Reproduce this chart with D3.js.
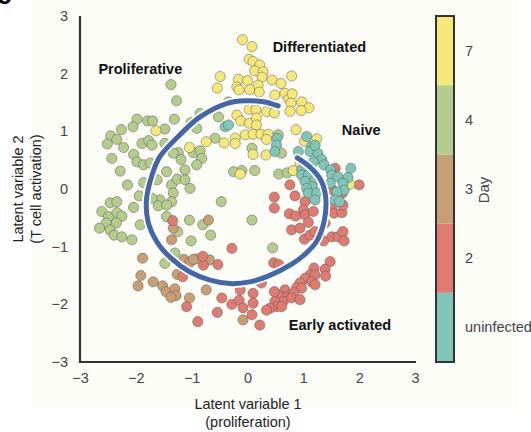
<!DOCTYPE html>
<html>
<head>
<meta charset="utf-8">
<script src="https://cdn.jsdelivr.net/npm/d3@7"></script>
<style>
  html, body { margin: 0; padding: 0; background: #ffffff; }
  svg { display: block; font-family: "Liberation Sans", Arial, Helvetica, sans-serif; }
</style>
</head>
<body>
<svg id="chart" width="531" height="432"></svg>
<script>
// Latent positions of single cells, grouped by sampling day
const day7 = [
  [-0.09,2.59],[0.08,2.47],[0.03,2.25],[0.10,2.21],[0.22,2.15],[0.13,2.05],[0.28,2.03],[0.26,1.94],
  [-0.16,1.90],[0.00,1.88],[0.19,1.80],[0.44,1.89],[0.60,1.83],[0.79,1.96],[-0.19,1.77],[-0.15,1.72],
  [0.04,1.72],[0.21,1.68],[0.49,1.63],[0.67,1.66],[0.74,1.56],[0.80,1.65],[0.78,1.49],[0.97,1.51],
  [1.10,1.41],[0.96,1.36],[0.76,1.35],[-0.49,1.95],[-0.54,1.75],[-0.19,1.28],[0.03,1.38],[0.15,1.37],
  [-0.12,1.18],[0.03,1.14],[0.16,1.23],[0.16,1.11],[0.34,1.34],[0.48,1.32],[0.87,1.03],[-0.04,0.94],
  [0.10,0.95],[0.24,0.95],[0.37,0.95],[-0.22,0.88],[-0.22,0.79],[0.34,0.86],[1.02,0.83],[0.33,0.59],
  [0.94,0.45],[0.82,0.32],[-0.13,0.26],[1.83,0.08],[-1.64,1.01],[-1.04,0.72],[-0.74,0.82],[-0.42,0.80],
  [0.10,0.60],[1.24,0.87]
];
const day4 = [
  [-1.37,1.81],[-1.27,1.53],[-0.34,1.51],[-1.98,1.21],[-1.79,1.18],[-1.70,1.18],[-2.26,1.03],[-2.05,1.08],
  [-1.48,1.04],[-1.31,1.21],[-1.01,1.15],[-0.85,1.31],[-0.91,1.05],[-0.52,1.25],[-2.45,0.92],[-2.34,0.86],
  [-2.51,0.78],[-2.22,0.72],[-1.89,0.79],[-1.77,0.84],[-1.71,0.76],[-1.48,0.79],[-1.24,0.63],[-1.33,0.62],
  [-1.19,0.51],[-2.04,0.60],[-1.98,0.47],[-1.86,0.42],[-2.43,0.53],[-2.28,0.31],[-1.74,0.45],[-0.97,0.63],
  [-0.85,0.66],[-0.82,0.53],[-0.91,0.42],[-0.58,0.88],[-1.45,0.30],[-1.12,0.33],[-2.15,0.07],[-1.94,-0.12],
  [-1.86,0.11],[-1.62,0.16],[-1.36,0.07],[-1.26,0.17],[-1.12,0.16],[-1.03,0.01],[-1.33,-0.07],[-1.36,-0.22],
  [-1.57,-0.19],[-1.60,-0.29],[-1.45,-0.28],[-1.71,-0.16],[-2.04,-0.32],[-2.46,-0.24],[-2.34,-0.22],[-2.61,-0.39],
  [-2.49,-0.48],[-2.34,-0.41],[-2.25,-0.47],[-2.35,-0.59],[-2.53,-0.59],[-2.65,-0.68],[-2.46,-0.71],[-2.39,-0.80],
  [-2.25,-0.83],[-2.07,-0.88],[-1.92,-0.62],[-1.45,-0.48],[-1.25,-0.74],[-1.04,-0.54],[-1.01,-0.90],[-0.80,-0.62],
  [-0.66,-0.80],[-0.47,-0.22],[-1.30,-1.11],[-1.48,-1.29],[-0.91,-1.21],[0.08,-0.54],[0.45,-1.02],[0.08,0.71],
  [0.61,0.62],[-0.10,0.32],[0.13,0.32],[0.56,0.26],[0.71,0.28],[-0.25,0.30],[0.55,0.94]
];
const day3 = [
  [-1.88,-1.20],[-1.14,-1.22],[-1.03,-1.27],[-0.97,-1.22],[-0.68,-1.23],[-1.91,-1.50],[-1.26,-1.48],[-1.96,-1.68],
  [-1.69,-1.61],[-1.52,-1.68],[-1.46,-1.78],[-1.30,-1.73],[-1.28,-1.85],[-1.37,-1.88],[-1.04,-1.89],[-0.74,-1.75],
  [-0.08,-2.27],[-0.70,-0.54],[-1.33,-0.68],[-1.36,-0.88]
];
const day2 = [
  [1.57,0.36],[1.53,-0.02],[1.70,-0.07],[2.00,0.07],[0.76,0.07],[0.48,-0.14],[0.48,-0.33],[0.85,-0.12],
  [1.03,-0.22],[0.75,-0.43],[0.86,-0.47],[1.00,-0.36],[1.03,-0.45],[1.18,-0.39],[1.51,-0.31],[1.55,-0.42],
  [1.69,-0.41],[1.71,-0.28],[0.79,-0.71],[0.94,-0.68],[1.02,-0.87],[1.12,-0.80],[1.21,-0.74],[1.51,-0.83],
  [1.62,-0.83],[1.71,-0.74],[1.73,-0.90],[1.39,-0.59],[-0.28,-1.03],[1.09,-0.58],[1.36,-0.90],[0.47,-1.28],
  [0.56,-1.31],[1.48,-1.26],[1.39,-1.39],[1.40,-1.51],[1.19,-1.37],[1.12,-1.49],[1.21,-1.49],[1.03,-1.55],
  [1.15,-1.61],[1.21,-1.66],[0.94,-1.63],[0.88,-1.71],[0.97,-1.72],[0.67,-1.75],[0.76,-1.84],[0.83,-1.80],
  [0.64,-1.87],[0.55,-1.84],[0.64,-1.95],[0.79,-1.89],[0.94,-1.92],[0.48,-1.78],[0.49,-1.95],[0.52,-2.04],
  [0.61,-2.04],[0.40,-2.07],[0.34,-2.10],[0.10,-1.81],[0.10,-1.98],[-0.28,-2.00],[-0.15,-1.93],[-0.08,-2.06],
  [0.08,-2.18],[0.22,-2.36],[-0.46,-1.89],[-0.13,-1.75],[0.25,-1.63],[-0.53,-1.31],[-0.79,-1.32],[-0.80,-1.17],
  [-1.34,-0.55],[-1.09,-2.04],[-0.89,-2.30],[-0.54,-2.14],[-1.16,-1.52]
];
const uninfected = [
  [-0.40,1.08],[-0.34,1.11],[0.53,0.88],[0.52,0.76],[0.49,0.65],[1.06,0.91],[1.14,0.73],[1.12,0.65],
  [1.26,0.62],[1.33,0.51],[1.37,0.42],[1.18,0.47],[0.91,0.65],[1.21,0.76],[0.97,0.33],[1.06,0.39],
  [1.49,0.33],[1.85,0.36],[0.97,0.24],[1.09,0.24],[1.03,0.13],[1.21,0.16],[1.16,0.04],[1.06,0.01],
  [1.09,-0.07],[1.24,-0.07],[1.21,-0.19],[1.51,0.24],[1.62,0.21],[1.48,0.10],[1.80,0.20],[1.71,0.10],
  [1.73,-0.02],[1.60,-0.05],[1.57,-0.19],[1.65,-0.22]
];

// Principal trajectory through the latent space
const trajectory = [
  [0.55,1.44],[0.31,1.51],[-0.04,1.53],[-0.35,1.49],[-0.85,1.25],[-1.21,0.94],[-1.57,0.56],[-1.72,0.21],
  [-1.81,-0.19],[-1.78,-0.57],[-1.62,-0.92],[-1.38,-1.19],[-1.03,-1.44],[-0.67,-1.58],[-0.31,-1.64],[0.04,-1.61],
  [0.37,-1.51],[0.80,-1.30],[1.03,-1.13],[1.23,-0.92],[1.37,-0.57],[1.40,-0.14],[1.31,0.16],[1.12,0.38],[0.89,0.54]
];

// Colour bar categories, bottom to top
const dayLabels = ["uninfected", "2", "3", "4", "7"];
const dayColors = ["#7fc6b8", "#e07b71", "#c99e73", "#b5cd8c", "#f5e879"];

const stateLabels = [
  {text: "Proliferative", x: -2.67, y: 2.00},
  {text: "Differentiated", x: 0.45, y: 2.38},
  {text: "Naive", x: 1.69, y: 0.93},
  {text: "Early activated", x: 0.74, y: -2.45}
];

const xTicks = [-3, -2, -1, 0, 1, 2, 3];
const yTicks = [-3, -2, -1, 0, 1, 2, 3];

const svg = d3.select("#chart");

// faint paper tone behind the figure
svg.append("rect").attr("x", 32).attr("y", 0).attr("width", 486).attr("height", 408)
  .attr("fill", "#fdfdf8");

// panel letter, mostly clipped by the page edge
svg.append("text").attr("x", -3).attr("y", 3.5)
  .attr("font-size", 26).attr("font-weight", "bold").attr("fill", "#000").text("c");

const x = d3.scaleLinear().domain([-3, 3]).range([80, 415]);
const y = d3.scaleLinear().domain([-3, 3]).range([362, 16]);

// axes
const xAxis = svg.append("g").attr("transform", "translate(0,362)")
  .call(d3.axisBottom(x).tickValues(xTicks).tickSize(0).tickPadding(11).tickFormat(d3.format("d")));
const yAxis = svg.append("g").attr("transform", "translate(80,0)")
  .call(d3.axisLeft(y).tickValues(yTicks).tickSize(0).tickPadding(12).tickFormat(d3.format("d")));
[xAxis, yAxis].forEach(g => {
  g.select(".domain").remove();
  g.selectAll("text").attr("font-size", 14.5).attr("fill", "#444")
    .attr("font-family", "'Liberation Sans', Arial, sans-serif");
});
svg.append("line").attr("x1", 80).attr("x2", 80).attr("y1", 16).attr("y2", 363)
  .attr("stroke", "#333").attr("stroke-width", 2.2);
svg.append("line").attr("x1", 79).attr("x2", 416).attr("y1", 362).attr("y2", 362)
  .attr("stroke", "#333").attr("stroke-width", 2.2);

// cells
const groups = [
  {data: day4, color: dayColors[3]},
  {data: day3, color: dayColors[2]},
  {data: day2, color: dayColors[1]},
  {data: day7, color: dayColors[4]},
  {data: uninfected, color: dayColors[0]}
];
const cells = svg.append("g");
groups.forEach(gp => {
  cells.selectAll(null).data(gp.data).enter().append("circle")
    .attr("cx", d => x(d[0])).attr("cy", d => y(d[1])).attr("r", 5.1)
    .attr("fill", gp.color).attr("stroke", "#555").attr("stroke-opacity", 0.7).attr("stroke-width", 0.7);
});

// trajectory with a white halo
const line = d3.line().x(d => x(d[0])).y(d => y(d[1])).curve(d3.curveCatmullRom.alpha(0.5));
svg.append("path").attr("d", line(trajectory)).attr("fill", "none")
  .attr("stroke", "#ffffff").attr("stroke-width", 8.5).attr("stroke-linecap", "round");
svg.append("path").attr("d", line(trajectory)).attr("fill", "none")
  .attr("stroke", "#4567a8").attr("stroke-width", 5).attr("stroke-linecap", "round");

// state annotations
svg.selectAll(".state").data(stateLabels).enter().append("text")
  .attr("x", d => x(d.x)).attr("y", d => y(d.y))
  .attr("font-size", 14.5).attr("font-weight", "bold").attr("fill", "#111")
  .text(d => d.text);

// axis titles
svg.append("text").attr("x", 248).attr("y", 409).attr("text-anchor", "middle")
  .attr("font-size", 14.5).attr("fill", "#222").text("Latent variable 1");
svg.append("text").attr("x", 248).attr("y", 427).attr("text-anchor", "middle")
  .attr("font-size", 14.5).attr("fill", "#222").text("(proliferation)");
svg.append("text").attr("transform", "translate(23,189) rotate(-90)").attr("text-anchor", "middle")
  .attr("font-size", 14.5).attr("fill", "#222").text("Latent variable 2");
svg.append("text").attr("transform", "translate(41,189) rotate(-90)").attr("text-anchor", "middle")
  .attr("font-size", 14.5).attr("fill", "#222").text("(T cell activation)");

// colour bar
const cb = d3.scaleBand().domain(dayLabels).range([362, 16]);
const cbar = svg.append("g");
cbar.selectAll("rect").data(dayLabels).enter().append("rect")
  .attr("x", 436).attr("width", 18)
  .attr("y", d => cb(d)).attr("height", cb.bandwidth())
  .attr("fill", (d, i) => dayColors[i]);
cbar.append("rect").attr("x", 436).attr("y", 16).attr("width", 18).attr("height", 346)
  .attr("fill", "none").attr("stroke", "#333").attr("stroke-width", 2);
cbar.selectAll("text").data(dayLabels).enter().append("text")
  .attr("x", 465).attr("y", d => cb(d) + cb.bandwidth() / 2 + 5)
  .attr("font-size", 14.5).attr("fill", "#444").text(d => d);
svg.append("text").attr("transform", "translate(489,190) rotate(-90)").attr("text-anchor", "middle")
  .attr("font-size", 15).attr("fill", "#444").text("Day");
</script>
</body>
</html>
